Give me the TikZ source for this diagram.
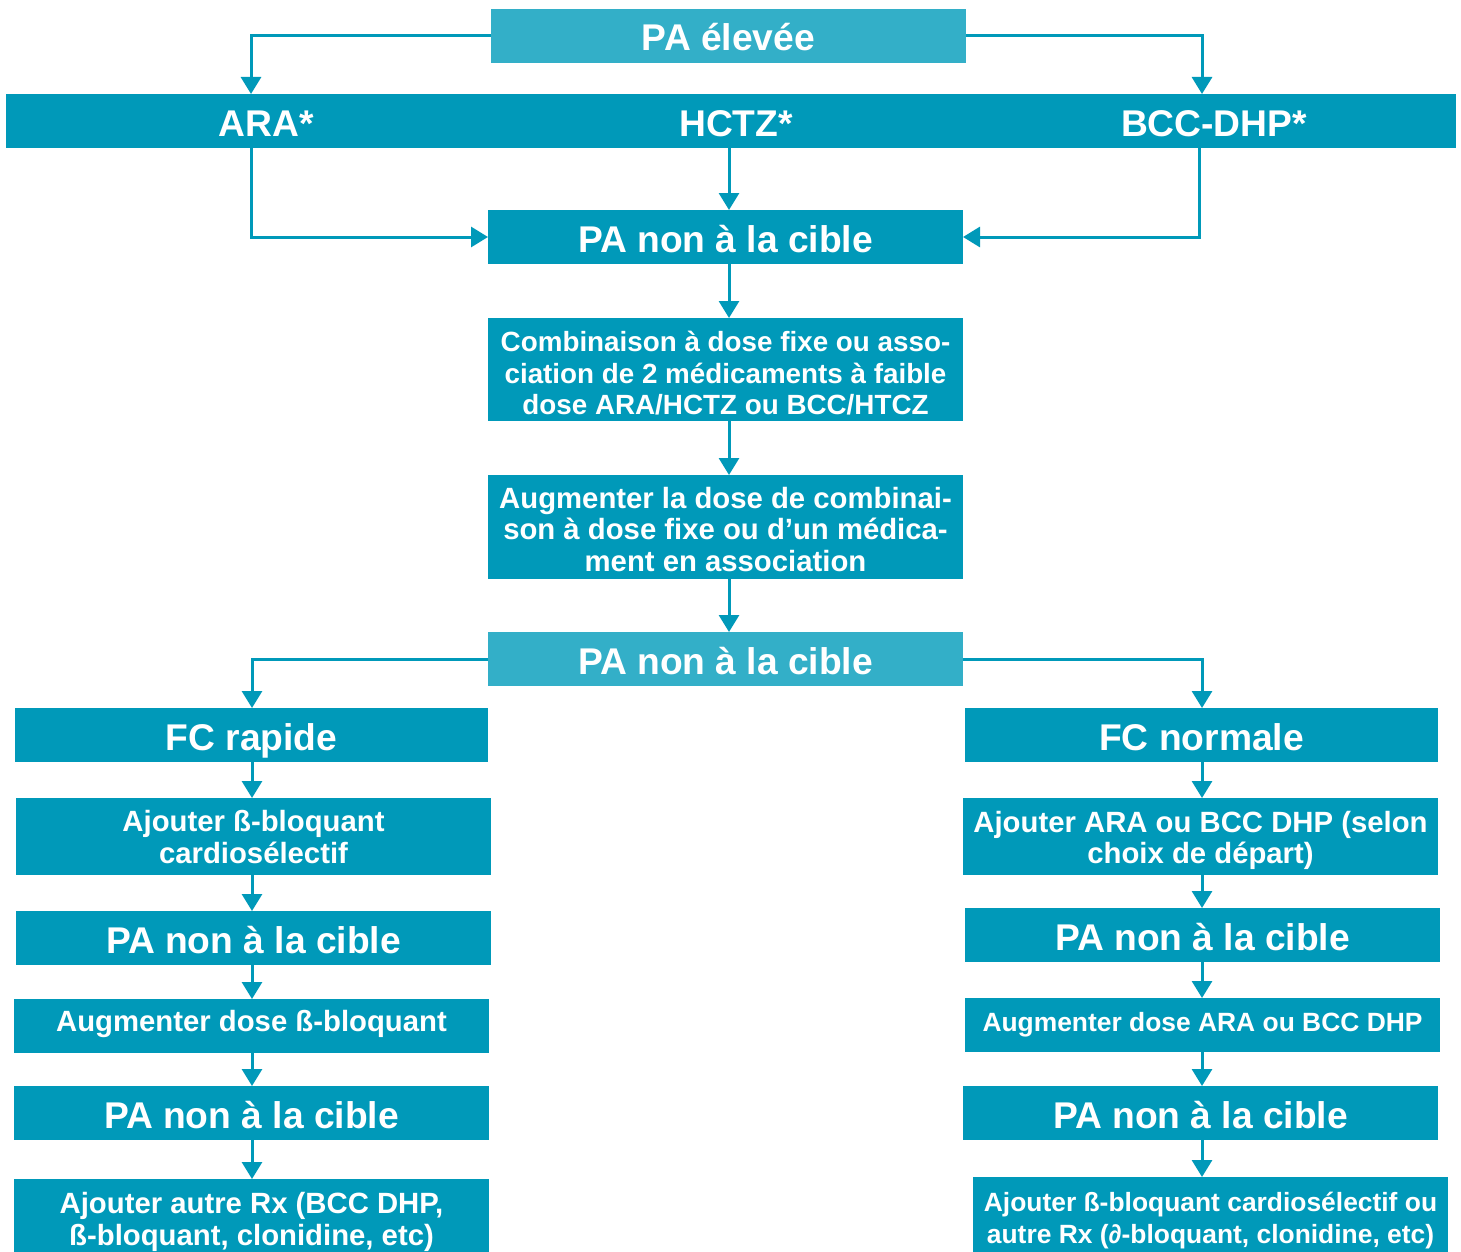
\documentclass[tikz,border=0pt]{standalone}
\usepackage{fontspec}
\setmainfont{Liberation Sans}
\usetikzlibrary{arrows.meta}
\definecolor{dk}{RGB}{0,153,185}
\definecolor{lt}{RGB}{51,175,200}
\newcommand\tln[1]{\rule{0pt}{#1}}
\newcommand\bln[1]{\rule[-#1]{0pt}{0pt}}
\begin{document}
\begin{tikzpicture}[x=0.5pt,y=-0.5pt,
  box/.style={fill=dk, text=white, inner sep=0pt, outer sep=0pt, align=center},
  ltbox/.style={box, fill=lt},
  big/.style={font=\fontsize{18.6}{21}\selectfont\bfseries, text height=15pt, text depth=0pt},
  med/.style={font=\fontsize{14.65}{15.75}\selectfont\bfseries},
  medc/.style={font=\fontsize{13.9}{15.75}\selectfont\bfseries},
  medr/.style={font=\fontsize{13.2}{15.75}\selectfont\bfseries},
  conn/.style={draw=dk, line width=1.5pt},
  arr/.style={conn, -{Triangle[width=10pt,length=8.5pt]}}
]
\useasboundingbox (0,0) rectangle (1461,1252);
% top
\node[ltbox, big, minimum width=237.5pt, minimum height=27pt] (top) at (728.5,36) {PA élevée};
\node[box, minimum width=725pt, minimum height=27pt] (bar) at (731,121) {};
\node[big, text=white] (ara) at (266,121) {ARA*};
\node[big, text=white] (hctz) at (736,121) {HCTZ*};
\node[big, text=white] (bcc) at (1214,121) {BCC-DHP*};
% center column
\node[box, big, minimum width=237.5pt, minimum height=27pt] (pa1) at (725.5,237) {PA non à la cible};
\node[box, medc, minimum width=237.5pt, minimum height=51.5pt] (comb) at (725.5,369.5) {\tln{16.8pt}Combinaison à dose fixe ou asso-\\ciation de 2 médicaments à faible\\dose ARA/HCTZ ou BCC/HTCZ\bln{3.1pt}};
\node[box, med, minimum width=237.5pt, minimum height=52pt] (aug) at (725.5,527) {\tln{16.6pt}Augmenter la dose de combinai-\\son à dose fixe ou d’un médica-\\ment en association\bln{3.8pt}};
\node[ltbox, big, minimum width=237.5pt, minimum height=27pt] (pa2) at (725.5,659) {PA non à la cible};
% left column
\node[box, big, minimum width=236.5pt, minimum height=27pt] (fcr) at (251.5,735) {FC rapide};
\node[box, med, minimum width=237.5pt, minimum height=38.5pt] (ajb) at (253.5,836.5) {\tln{16.4pt}Ajouter ß-bloquant\\cardiosélectif\bln{5.2pt}};
\node[box, big, minimum width=237.5pt, minimum height=27pt] (pa3) at (253.5,938) {PA non à la cible};
\node[box, med, minimum width=237.5pt, minimum height=27pt, text height=10pt, text depth=4.3pt] (augb) at (251.5,1026) {Augmenter dose ß-bloquant};
\node[box, big, minimum width=237.5pt, minimum height=27pt] (pa4) at (251.5,1113) {PA non à la cible};
\node[box, med, minimum width=237.5pt, minimum height=37pt] (ajr) at (251.5,1216) {\tln{17.3pt}Ajouter autre Rx (BCC DHP,\\ß-bloquant, clonidine, etc)\bln{3.8pt}};
% right column
\node[box, big, minimum width=236.5pt, minimum height=27pt] (fcn) at (1201.5,735) {FC normale};
\node[box, med, minimum width=237.5pt, minimum height=38.5pt] (ajara) at (1200.5,836.5) {\tln{16.55pt}Ajouter ARA ou BCC DHP (selon\\choix de départ)\bln{5pt}};
\node[box, big, minimum width=237.5pt, minimum height=27pt] (pa5) at (1202.5,935) {PA non à la cible};
\node[box, medr, minimum width=237.5pt, minimum height=27pt, text height=10.3pt, text depth=3.6pt] (augara) at (1202.5,1025) {Augmenter dose ARA ou BCC DHP};
\node[box, big, minimum width=237.5pt, minimum height=27pt] (pa6) at (1200.5,1113) {PA non à la cible};
\node[box, medr, minimum width=237.5pt, minimum height=38pt] (ajfin) at (1210.5,1215) {\tln{16.7pt}Ajouter ß-bloquant cardiosélectif ou\\autre Rx (∂-bloquant, clonidine, etc)\bln{4.45pt}};
% coordinates
\coordinate (aIn) at (251,94);
\coordinate (bIn) at (1202,94);
\coordinate (aOut) at (251,148);
\coordinate (hOut) at (729,148);
\coordinate (bOut) at (1199,148);
\coordinate (cC) at (729,0);
\coordinate (cL) at (252,0);
\coordinate (cR) at (1202,0);
% connectors
\draw[arr] (top.west) -| (aIn);
\draw[arr] (top.east) -| (bIn);
\draw[arr] (hOut) -- (hOut |- pa1.north);
\draw[arr] (aOut) |- (pa1.west);
\draw[arr] (bOut) |- (pa1.east);
\draw[arr] (pa1.south -| cC) -- (comb.north -| cC);
\draw[arr] (comb.south -| cC) -- (aug.north -| cC);
\draw[arr] (aug.south -| cC) -- (pa2.north -| cC);
\draw[arr] (pa2.west) -| (fcr.north -| cL);
\draw[arr] (pa2.east) -| (fcn.north -| cR);
\draw[arr] (fcr.south -| cL) -- (ajb.north -| cL);
\draw[arr] (ajb.south -| cL) -- (pa3.north -| cL);
\draw[arr] (pa3.south -| cL) -- (augb.north -| cL);
\draw[arr] (augb.south -| cL) -- (pa4.north -| cL);
\draw[arr] (pa4.south -| cL) -- (ajr.north -| cL);
\draw[arr] (fcn.south -| cR) -- (ajara.north -| cR);
\draw[arr] (ajara.south -| cR) -- (pa5.north -| cR);
\draw[arr] (pa5.south -| cR) -- (augara.north -| cR);
\draw[arr] (augara.south -| cR) -- (pa6.north -| cR);
\draw[arr] (pa6.south -| cR) -- (ajfin.north -| cR);
\end{tikzpicture}
\end{document}
